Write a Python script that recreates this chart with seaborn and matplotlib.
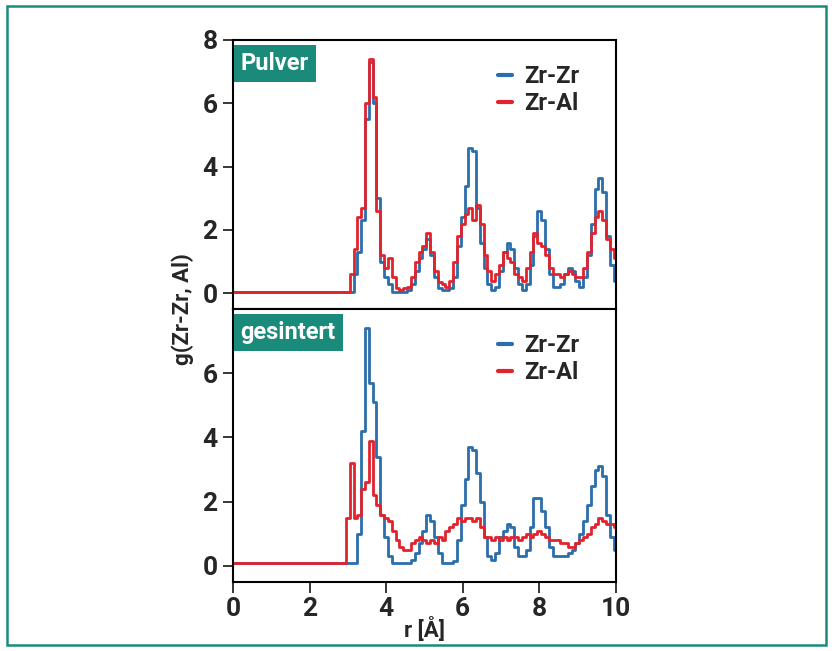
import numpy as np
import pandas as pd
import matplotlib
matplotlib.use('Agg')
import matplotlib.pyplot as plt
import seaborn as sns
from matplotlib.patches import Rectangle

# radial distance grid (A): baseline points, then 0.1 A steps from 3.0 to 10.0
r = [0.0, 2.9] + [round(3.0 + 0.1 * i, 1) for i in range(71)]

# Pulver
pulver_zrzr = [0.05, 0.05,
    0.05, 0.05, 0.6, 1.3, 2.3, 5.5, 7.3, 6.0, 3.0, 1.0,
    0.5, 0.3, 0.05, 0.05, 0.05, 0.05, 0.1, 0.3, 0.7, 1.1,
    1.4, 1.7, 1.2, 0.5, 0.15, 0.1, 0.1, 0.15, 0.5, 1.5,
    2.4, 3.4, 4.6, 4.5, 2.7, 1.6, 0.8, 0.3, 0.1, 0.2,
    0.7, 1.3, 1.6, 1.4, 0.8, 0.3, 0.1, 0.3, 0.9, 1.8,
    2.6, 2.3, 1.4, 0.6, 0.2, 0.2, 0.3, 0.6, 0.8, 0.7,
    0.4, 0.2, 0.5, 1.2, 2.2, 3.3, 3.65, 3.2, 1.8, 0.9,
    0.4]
pulver_zral = [0.05, 0.05,
    0.05, 0.6, 1.4, 2.4, 2.7, 6.0, 7.4, 6.2, 2.6, 1.2,
    0.8, 1.1, 0.5, 0.15, 0.1, 0.15, 0.2, 0.5, 1.0, 1.3,
    1.5, 1.9, 1.3, 0.7, 0.35, 0.3, 0.2, 0.4, 1.0, 1.8,
    2.2, 2.5, 2.7, 2.3, 2.8, 2.2, 1.2, 0.7, 0.4, 0.6,
    0.9, 1.3, 1.1, 1.0, 0.6, 0.5, 0.4, 0.8, 1.3, 1.9,
    1.6, 1.5, 1.2, 0.8, 0.6, 0.6, 0.5, 0.6, 0.7, 0.6,
    0.5, 0.5, 0.8, 1.3, 1.9, 2.4, 2.6, 2.3, 1.7, 1.4,
    1.1]

# gesintert
sint_zrzr = [0.1, 0.1,
    0.1, 0.1, 0.1, 1.0, 4.2, 7.4, 5.7, 5.1, 3.4, 1.6,
    0.9, 0.3, 0.1, 0.1, 0.1, 0.1, 0.1, 0.2, 0.4, 0.7,
    1.1, 1.6, 1.4, 0.9, 0.4, 0.1, 0.1, 0.1, 0.15, 0.8,
    1.9, 2.7, 3.7, 3.6, 2.9, 2.0, 0.9, 0.3, 0.2, 0.4,
    0.9, 1.1, 1.3, 1.2, 0.6, 0.3, 0.3, 0.5, 1.2, 2.1,
    2.1, 1.7, 1.2, 0.6, 0.3, 0.3, 0.3, 0.3, 0.4, 0.5,
    0.7, 1.0, 1.4, 1.9, 2.5, 3.0, 3.1, 2.8, 1.6, 0.9,
    0.5]
sint_zral = [0.1, 0.1,
    1.5, 3.2, 1.5, 1.6, 2.4, 2.6, 3.9, 2.2, 1.9, 1.6,
    1.5, 1.4, 1.1, 0.8, 0.6, 0.5, 0.5, 0.7, 0.8, 0.9,
    0.8, 0.7, 0.8, 0.7, 0.9, 0.8, 1.1, 1.2, 1.3, 1.5,
    1.4, 1.5, 1.5, 1.4, 1.5, 1.2, 0.9, 0.9, 0.8, 0.9,
    0.8, 0.9, 0.8, 0.9, 0.9, 0.8, 0.9, 1.0, 0.9, 1.0,
    1.1, 1.0, 0.9, 0.8, 0.8, 0.8, 0.7, 0.7, 0.6, 0.6,
    0.7, 0.8, 0.9, 1.0, 1.2, 1.3, 1.5, 1.4, 1.3, 1.3,
    1.2]

pairs = ['Zr-Zr', 'Zr-Al']
colors = {'Zr-Zr': '#2a6eab', 'Zr-Al': '#e1232e'}
teal = '#1a8a7a'

sns.set_style('white')
plt.rcParams['font.family'] = ['Roboto', 'DejaVu Sans']
plt.rcParams['font.weight'] = 'bold'

def make_df(zz, za):
    return pd.concat([
        pd.DataFrame({'r': r, 'g': zz, 'pair': 'Zr-Zr'}),
        pd.DataFrame({'r': r, 'g': za, 'pair': 'Zr-Al'}),
    ])

fig = plt.figure(figsize=(8.32, 6.51), dpi=100)
fig.patch.set_facecolor('white')
fig.patches.append(Rectangle((7/832, 1 - 645/651), 819/832, 639/651,
                             transform=fig.transFigure, fill=False,
                             ec=teal, lw=1.8))

ax1 = fig.add_axes([0.280, 0.5253, 0.460, 0.4133])
ax2 = fig.add_axes([0.280, 0.106, 0.460, 0.4193])

panels = [(ax1, make_df(pulver_zrzr, pulver_zral), 'Pulver', [0, 2, 4, 6, 8]),
          (ax2, make_df(sint_zrzr, sint_zral), 'gesintert', [0, 2, 4, 6])]

for ax, d, name, yt in panels:
    sns.lineplot(data=d, x='r', y='g', hue='pair', palette=colors,
                 hue_order=pairs, estimator=None, drawstyle='steps-mid',
                 lw=2, ax=ax, legend=False)
    ax.set_xlim(0, 10)
    ax.set_ylim(-0.5, 8.0)
    ax.set_yticks(yt)
    ax.set_xlabel('')
    ax.set_ylabel('')
    for s in ax.spines.values():
        s.set_color('black')
        s.set_linewidth(1.5)
    ax.tick_params(axis='y', direction='out', length=7, width=1.3,
                   left=True, labelsize=19, pad=4)
    ax.text(0.02, 0.955, name, transform=ax.transAxes, ha='left', va='top',
            color='white', fontsize=17, fontweight='bold',
            bbox=dict(boxstyle='square,pad=0.3', fc=teal, ec='none'))
    hs = [plt.Line2D([], [], color=colors[p], lw=3) for p in pairs]
    ax.legend(hs, pairs, loc='upper right', bbox_to_anchor=(0.96, 0.985),
              frameon=False, handlelength=0.6, handletextpad=0.5,
              labelspacing=0.15, prop={'size': 17, 'weight': 'bold'})

ax1.set_xticks([0, 2, 4, 6, 8, 10])
ax1.tick_params(axis='x', bottom=False, labelbottom=False)
ax2.set_xticks([0, 2, 4, 6, 8, 10])
ax2.tick_params(axis='x', direction='out', length=8, width=1.3,
                bottom=True, labelsize=19, pad=3)

ax2.set_xlabel('r [Å]', fontsize=16, fontweight='bold', labelpad=-3)
fig.text(0.22, 0.525, 'g(Zr-Zr, Al)', rotation=90, ha='center', va='center',
         fontsize=16, fontweight='bold')

plt.savefig('out.png', dpi=100)
